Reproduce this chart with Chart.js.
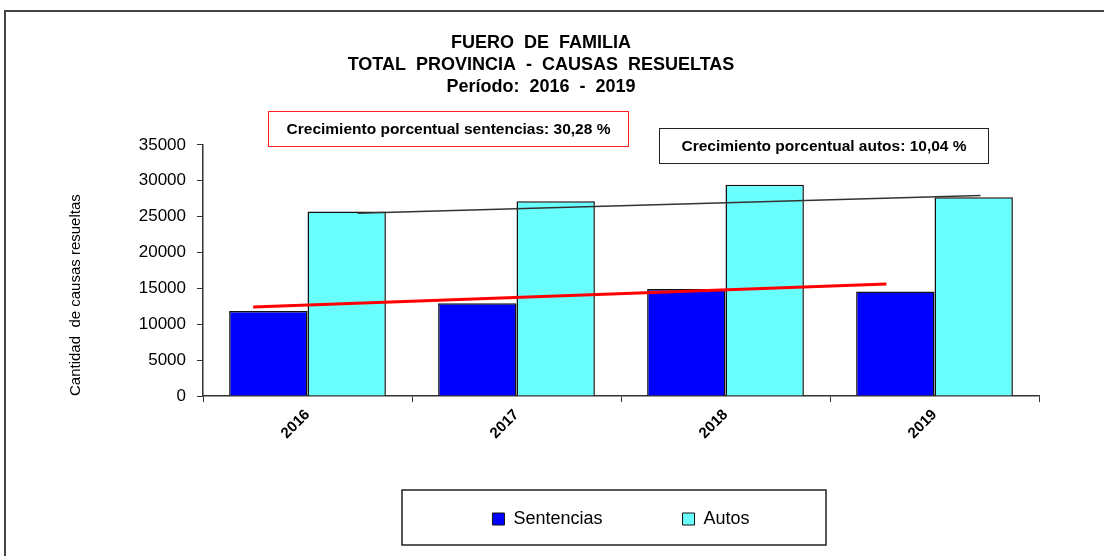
<!DOCTYPE html>
<html>
<head>
<meta charset="utf-8">
<script src="https://cdn.jsdelivr.net/npm/chart.js@4/dist/chart.umd.min.js"></script>
<style>
  body { margin: 0; background: #fff; font-family: "Liberation Sans", Arial, sans-serif; }
  #wrap { position: relative; width: 1104px; height: 556px; overflow: hidden; }
  #frame { position: absolute; left: 4px; top: 10px; width: 1200px; height: 700px;
           border-top: 2px solid #444; border-left: 2px solid #444; }
  .note { position: absolute; font-weight: bold; font-size: 15.5px; color: #000;
          display: flex; align-items: center; justify-content: center; box-sizing: border-box; }
  #noteS { left: 268px; top: 111px; width: 361px; height: 36px; border: 1.5px solid #ff2020; }
  #noteA { left: 659px; top: 128px; width: 330px; height: 36px; border: 1.5px solid #222; }
  canvas { position: absolute; left: 0; top: 0; }
</style>
</head>
<body>
<div id="wrap">
  <div id="frame"></div>
  <canvas id="chart" width="1104" height="556"></canvas>
  <div class="note" id="noteS">Crecimiento porcentual sentencias: 30,28 %</div>
  <div class="note" id="noteA">Crecimiento porcentual autos: 10,04 %</div>
</div>
<script>
var years = ['2016', '2017', '2018', '2019'];
var sentencias = [11850, 12930, 14920, 14550];
var autos = [25700, 27150, 29430, 27710];
var yTicks = [0, 5000, 10000, 15000, 20000, 25000, 30000, 35000];
// trend lines as drawn (start / end, x in category units)
var trendSentencias = [{ x: -0.26, y: 12410 }, { x: 2.77, y: 15620 }];
var trendAutos = [{ x: 0.24, y: 25480 }, { x: 3.22, y: 27930 }];

var FONT = "'Liberation Sans', Arial, sans-serif";

// trend lines, placed through the chart's own x / y scales
var trendLines = {
    id: 'trendLines',
    afterDatasetsDraw(chart) {
        var ctx = chart.ctx, xs = chart.scales.x, ys = chart.scales.y;
        function draw(pts, color, width) {
            ctx.save();
            ctx.strokeStyle = color;
            ctx.lineWidth = width;
            ctx.beginPath();
            pts.forEach(function (p, i) {
                var px = xs.getPixelForValue(p.x), py = ys.getPixelForValue(p.y);
                if (i === 0) ctx.moveTo(px, py); else ctx.lineTo(px, py);
            });
            ctx.stroke();
            ctx.restore();
        }
        draw(trendAutos, '#333', 1.5);
        draw(trendSentencias, '#ff0000', 3);
    },
    afterDraw(chart) {
        // border around the legend
        var ctx = chart.ctx;
        ctx.save();
        ctx.strokeStyle = '#222';
        ctx.lineWidth = 1.5;
        ctx.strokeRect(402, 490, 424, 55);
        ctx.restore();
    }
};

new Chart(document.getElementById('chart'), {
    type: 'bar',
    data: {
        labels: years,
        datasets: [{
            label: 'Sentencias',
            data: sentencias,
            backgroundColor: '#0000ff',
            borderColor: '#111',
            borderWidth: 1.5,
            categoryPercentage: 0.75,
            barPercentage: 1
        }, {
            label: 'Autos',
            data: autos,
            backgroundColor: '#6affff',
            borderColor: '#111',
            borderWidth: 1.5,
            categoryPercentage: 0.75,
            barPercentage: 1
        }]
    },
    options: {
        responsive: false,
        animation: false,
        layout: { padding: { left: 43, right: 65, top: 0, bottom: 18 } },
        plugins: {
            tooltip: { enabled: false },
            title: {
                display: true,
                text: ['FUERO  DE  FAMILIA', 'TOTAL  PROVINCIA  -  CAUSAS  RESUELTAS', 'Período:  2016  -  2019'],
                color: '#000',
                font: { family: FONT, size: 18, weight: 'bold', lineHeight: 1.22 },
                padding: { top: 32, bottom: 47 }
            },
            legend: {
                position: 'bottom',
                fullSize: false,
                labels: {
                    color: '#000',
                    font: { family: FONT, size: 18 },
                    boxWidth: 12,
                    boxHeight: 12,
                    padding: 27,
                    generateLabels(chart) {
                        var items = Chart.defaults.plugins.legend.labels.generateLabels(chart);
                        items.forEach(function (it) { it.lineWidth = 1; it.strokeStyle = '#111'; });
                        // spacer between the two entries
                        items.splice(1, 0, { text: ' ', fillStyle: 'rgba(0,0,0,0)', strokeStyle: 'rgba(0,0,0,0)', lineWidth: 0, hidden: false, datasetIndex: -1 });
                        return items;
                    }
                },
                onClick: function () {}
            }
        },
        scales: {
            x: {
                grid: { display: true, drawOnChartArea: false, drawTicks: true, tickLength: 6, color: '#333', offset: true },
                border: { display: true, color: '#333', width: 1.5 },
                ticks: {
                    color: '#000',
                    font: { family: FONT, size: 15, weight: 'bold' },
                    minRotation: 45,
                    maxRotation: 45,
                    autoSkip: false,
                    padding: 4
                },
                afterFit(scale) { scale.height = 87; }
            },
            y: {
                min: 0,
                max: 35000,
                afterBuildTicks(scale) { scale.ticks = yTicks.map(function (v) { return { value: v }; }); },
                grid: { display: true, drawOnChartArea: false, drawTicks: true, tickLength: 6, color: '#333' },
                border: { display: true, color: '#333', width: 1.5 },
                ticks: {
                    color: '#000',
                    font: { family: FONT, size: 17 },
                    padding: 11,
                    callback: function (v) { return String(v); }
                },
                title: {
                    display: true,
                    text: 'Cantidad  de causas resueltas',
                    color: '#000',
                    align: 'start',
                    font: { family: FONT, size: 15 },
                    padding: { top: 24, bottom: 0 }
                },
                afterFit(scale) { scale.width = 160; }
            }
        }
    },
    plugins: [trendLines]
});
</script>
</body>
</html>
